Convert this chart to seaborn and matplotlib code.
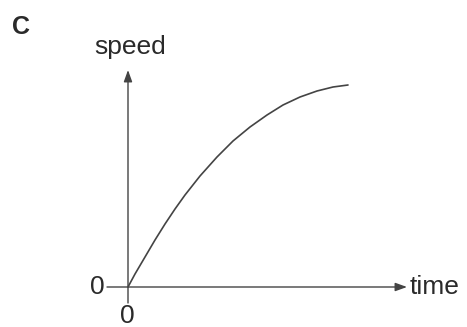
import matplotlib
matplotlib.use("Agg")
import matplotlib.pyplot as plt
import seaborn as sns
import pandas as pd

# valores (unidades arbitrarias)
tempo = [0.0, 0.7, 1.7, 2.7, 3.7, 4.7, 5.7, 7.2, 8.9, 10.5, 12.2, 13.9,
         15.5, 17.2, 18.9, 20.5, 22.0]
velocidade = [0.0, 1.3, 3.0, 4.7, 6.3, 7.8, 9.2, 11.1, 13.0, 14.6, 16.0, 17.2,
              18.2, 19.0, 19.6, 20.0, 20.2]
rotulo_x = "time"
rotulo_y = "speed"
letra = "C"

sns.set_style("white")
plt.rcParams['font.family'] = ['Liberation Sans', 'DejaVu Sans']

dados = pd.DataFrame({"tempo": tempo, "velocidade": velocidade})

fig = plt.figure(figsize=(4.67, 3.27), dpi=100)
ax = fig.add_axes([0, 0, 1, 1])
ax.set_xlim(-12.8, 33.9)
ax.set_ylim(-4.0, 28.7)
ax.axis("off")

cor = "#444444"
sns.lineplot(data=dados, x="tempo", y="velocidade", ax=ax, color=cor, lw=1.2)

# eixos com setas
seta = dict(arrowstyle="-|>,head_length=0.5,head_width=0.18", color=cor, lw=1.0,
            shrinkA=0, shrinkB=0, mutation_scale=14)
ax.annotate("", xy=(0, 21.7), xytext=(0, -1.6), arrowprops=seta)
ax.annotate("", xy=(27.9, 0), xytext=(-2.1, 0), arrowprops=seta)

cor_txt = "#2a2a2a"
ax.text(0.2, 24.0, rotulo_y, ha="center", va="center", fontsize=19, color=cor_txt)
ax.text(28.2, 0.0, rotulo_x, ha="left", va="center", fontsize=19, color=cor_txt)
ax.text(-3.1, 0.0, "0", ha="center", va="center", fontsize=19, color=cor_txt)
ax.text(-0.1, -2.9, "0", ha="center", va="center", fontsize=19, color=cor_txt)
ax.text(-10.7, 26.0, letra, ha="center", va="center", fontsize=18,
        fontweight="bold", color=cor_txt)

fig.savefig("out.png", dpi=100)
